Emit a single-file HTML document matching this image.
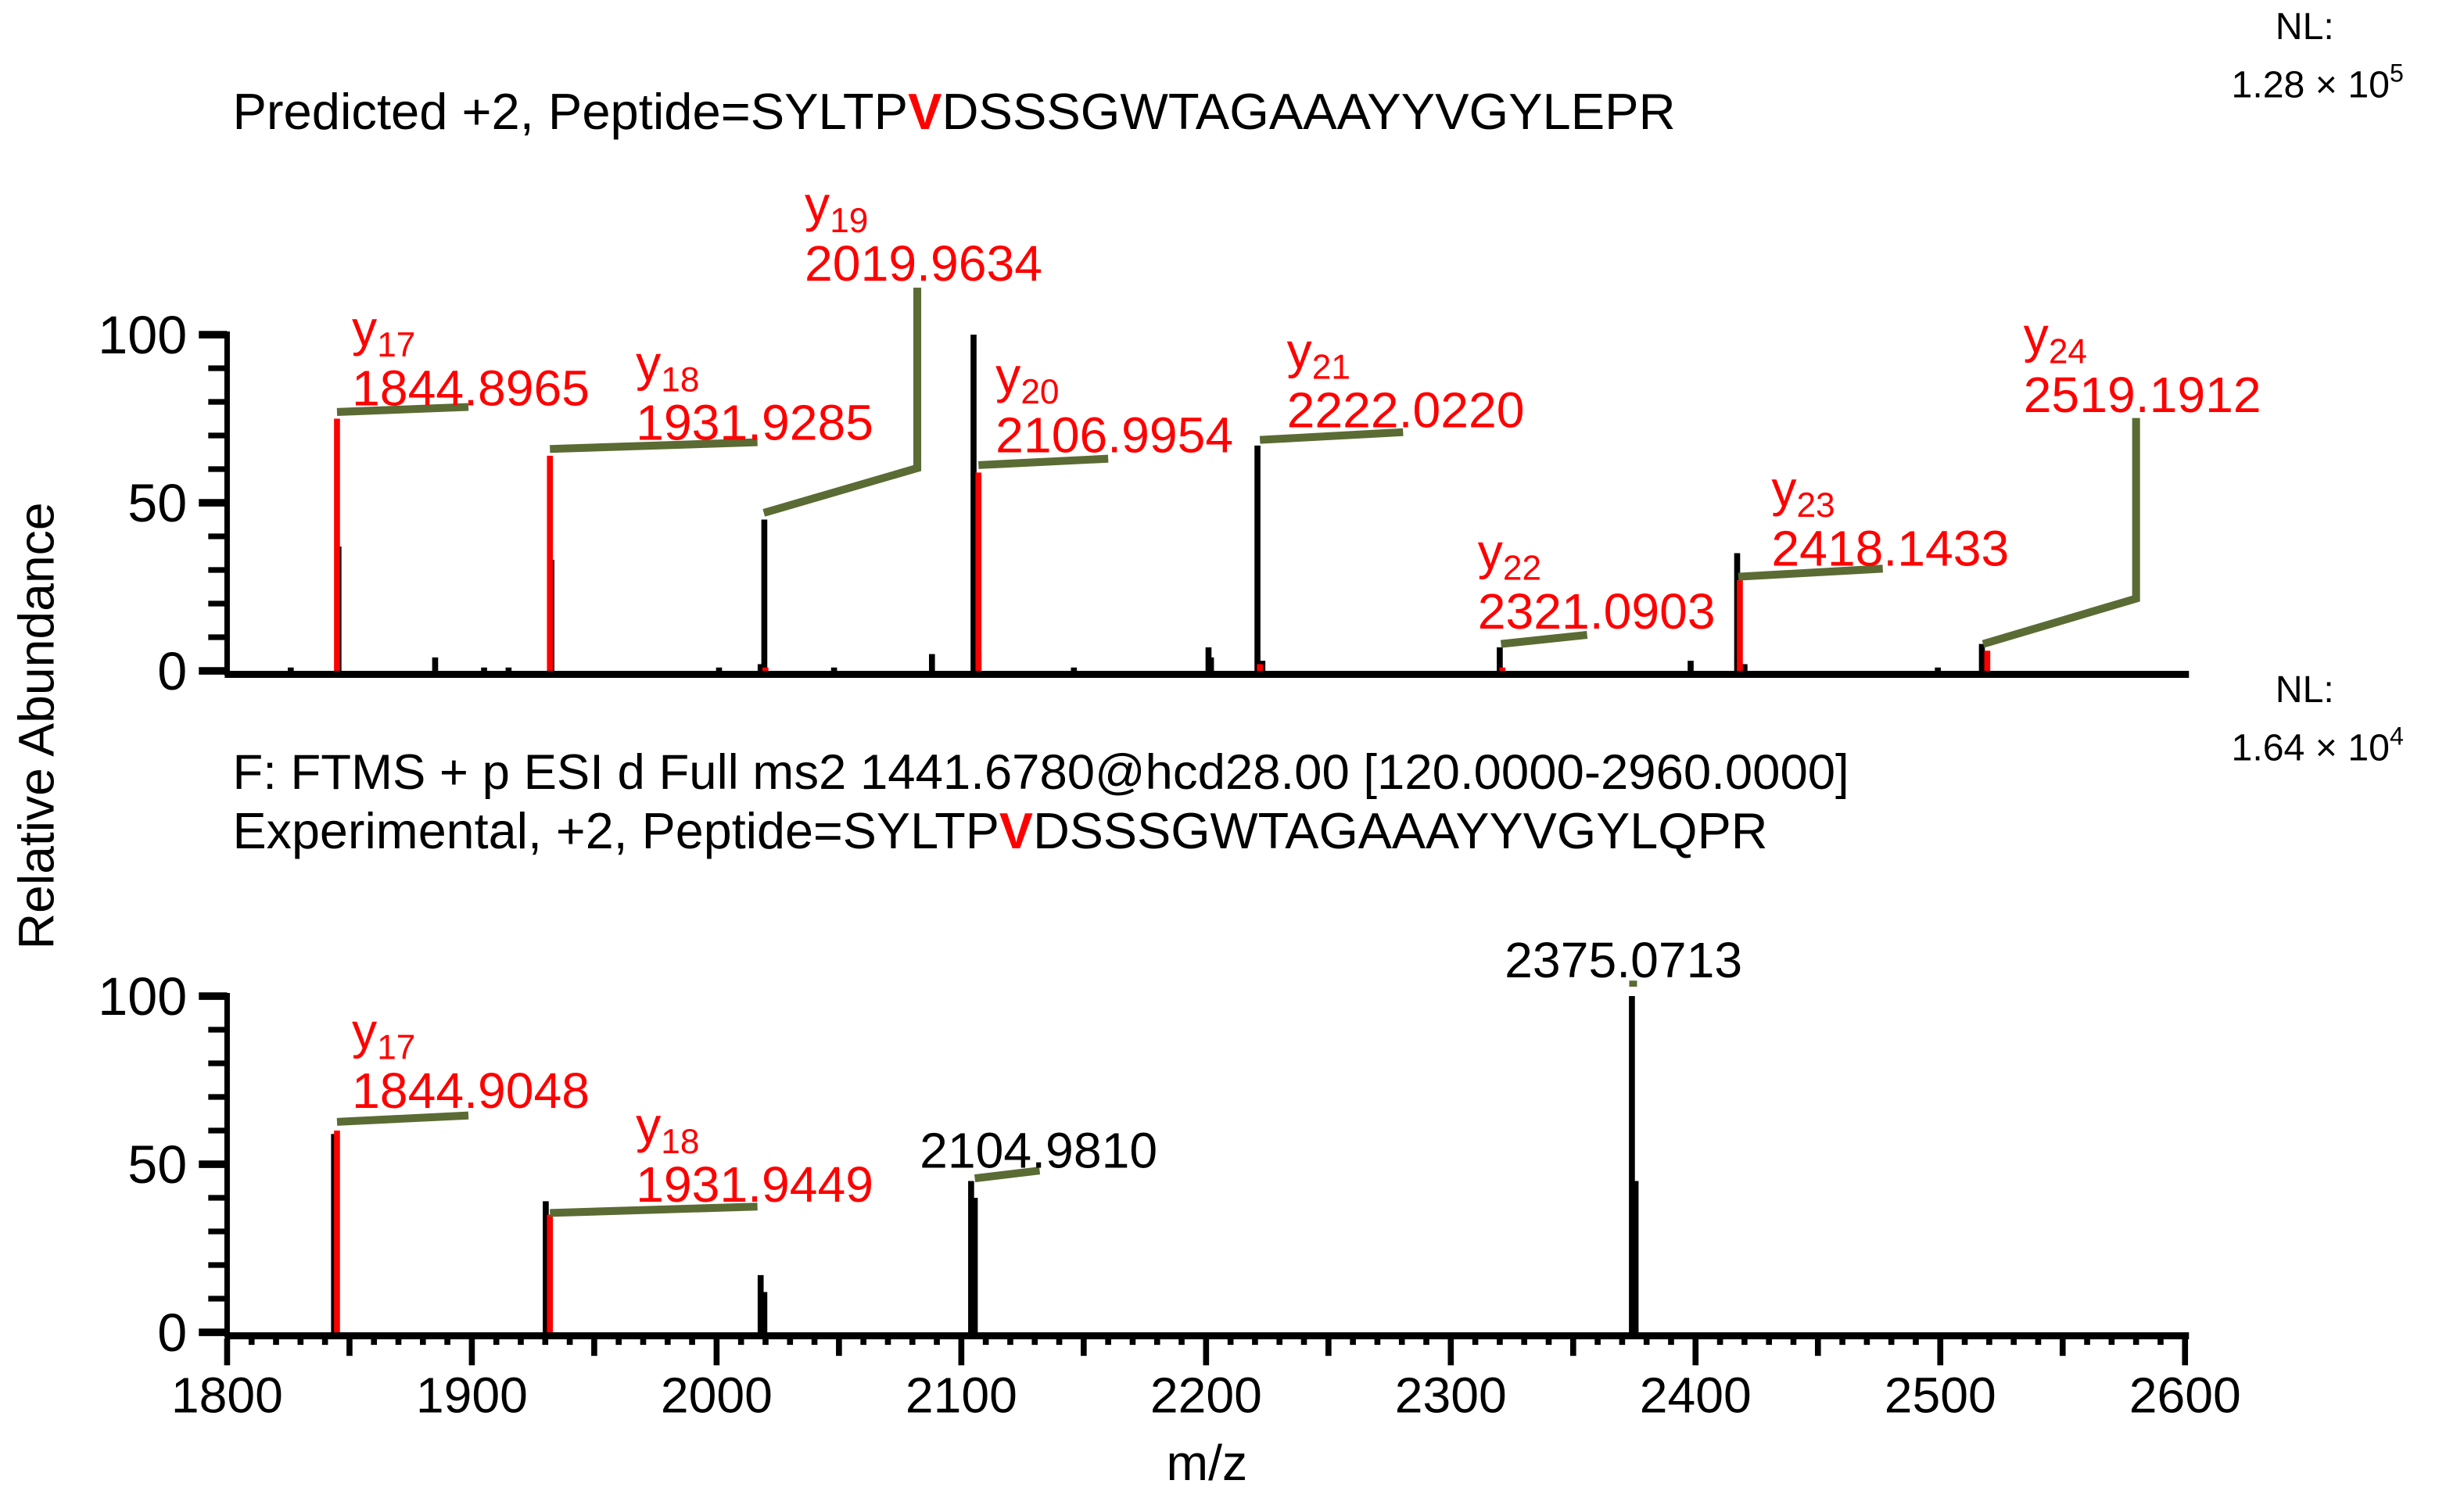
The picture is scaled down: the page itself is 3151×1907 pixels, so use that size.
<!DOCTYPE html>
<html><head><meta charset="utf-8"><style>
html,body{margin:0;padding:0;background:#fff;}
svg{display:block;font-family:"Liberation Sans",Arial,sans-serif;}
</style></head><body>
<svg id="chart" width="3151" height="1907" viewBox="0 0 1568 949" xmlns="http://www.w3.org/2000/svg">
<g id="static">
<text x="1448" y="25" font-size="24">NL:</text>
<text x="1420" y="62" font-size="24">1.28 × 10<tspan dy="-10" font-size="16">5</tspan></text>
<text x="1448" y="447" font-size="24">NL:</text>
<text x="1420" y="484" font-size="24">1.64 × 10<tspan dy="-10" font-size="16">4</tspan></text>
<text x="148" y="82" font-size="32.4">Predicted +2, Peptide=SYLTP<tspan fill="#ff0000" font-weight="bold">V</tspan>DSSSGWTAGAAAYYVGYLEPR</text>
<text x="148" y="502" font-size="31.6">F: FTMS + p ESI d Full ms2 1441.6780@hcd28.00 [120.0000-2960.0000]</text>
<text x="148" y="540" font-size="32.2">Experimental, +2, Peptide=SYLTP<tspan fill="#ff0000" font-weight="bold">V</tspan>DSSSGWTAGAAAYYVGYLQPR</text>
<text transform="translate(34,462) rotate(-90)" text-anchor="middle" font-size="32">Relative Abundance</text>
<text x="768" y="942" text-anchor="middle" font-size="32">m/z</text>
</g>
<g id="dyn"></g>
</svg>
<script>
const xTicks = [1800,1900,2000,2100,2200,2300,2400,2500,2600];
const yTicks = [0,50,100];
// top panel peaks
const topBlackMz = [1826,1845.5,1885,1905,1915,1932.5,2001,2018,2019.5,2048,2088,2105,2107,2146,2201,2202,2221,2223,2320,2398,2417,2420,2499,2517];
const topBlackInt = [1,37,4,1,1,33,1,2,45,1,5,100,5,1,7,4,67,3,7,3,35,2,1,8];
const topRedMz = [1844.9,1931.9,2019.96,2107.0,2222.0,2321.1,2418.1,2519.2];
const topRedInt = [75,64,1,59,2,1,27,6];
// bottom panel peaks
const botBlackMz = [1843.7,1930.2,2018,2019.5,2104,2105.5,2374,2375.5];
const botBlackInt = [59,39,17,12,45,40,100,45];
const botRedMz = [1844.9,1931.9];
const botRedInt = [60,35];
// top annotations
const topLabelIon = ["17","18","19","20","21","22","23","24"];
const topLabelMass = ["1844.8965","1931.9285","2019.9634","2106.9954","2222.0220","2321.0903","2418.1433","2519.1912"];
const topLeaderMz = [1844.9,1931.9,2019.3,2107.0,2222.0,2320.5,2417.5,2517.5];
const topLeaderStart = [77,66,47,61.2,68.7,8,28,8];
const topLeaderEndMz = [1898.6,2016.7,2082,2160,2280.5,2355.7,2476.5,2580];
const topLeaderEnd = [78.5,68,60.3,63.1,71,10.7,30.4,21.5];
const topElbowTop = [0,0,114,0,0,0,0,75.2];
const topTextMz = [1851,1967,2036,2114,2233,2311,2431,2534];
const topTextLevel = [79,68.7,116,65,72.4,12.6,31.3,77];
// bottom annotations
const botLabelIon = ["17","18","",""];
const botLabelMass = ["1844.9048","1931.9449","2104.9810","2375.0713"];
const botLeaderMz = [1844.9,1931.9,2105.5,2374.5];
const botLeaderStart = [62.6,35.5,45.8,102.8];
const botLeaderEndMz = [1898.6,2016.7,2132,2374.5];
const botLeaderEnd = [64.5,37.4,48.1,104.6];
const botTextMz = [1851,1967,2083,2322];
const botTextLevel = [66.8,38.8,49,105.6];

const NS="http://www.w3.org/2000/svg";
const g=document.getElementById('dyn');
const X0=144.5, PX=1.5575;
const xs=mz=>X0+(mz-1800)*PX;
const ysTop=v=>427-v*2.14;
const ysBot=v=>848-v*2.14;
function mk(tag,attrs,parent){const e=document.createElementNS(NS,tag);for(const k in attrs)e.setAttribute(k,attrs[k]);(parent||g).appendChild(e);return e;}

function axes(ys,name,withX){
  const a=mk('line',{x1:X0-1.5,y1:ys(0)+2.2,x2:1393,y2:ys(0)+2.2,stroke:'#000','stroke-width':4.5});
  
  
  const b=mk('line',{x1:X0,y1:ys(0)+3,x2:X0,y2:ys(100)-2,stroke:'#000','stroke-width':3.5});
  
  
  for(let v=0;v<=100;v+=10){
    const major=v%50===0;
    mk('line',{x1:major?X0-18:X0-12,y1:ys(v),x2:X0,y2:ys(v),stroke:'#000','stroke-width':major?4.8:3.6});
  }
  yTicks.forEach(v=>{
    const t=mk('text',{x:119,y:ys(v)+12,'text-anchor':'end','font-size':34});
    
    
    t.textContent=v;
  });
  if(withX){
    for(let m=1800;m<=2600;m+=10){
      const len=m%100===0?17:(m%50===0?11:4);
      mk('line',{x1:xs(m),y1:ys(0)+4,x2:xs(m),y2:ys(0)+4+len,stroke:'#000','stroke-width':3.8});
    }
    xTicks.forEach(m=>{
      const t=mk('text',{x:xs(m),y:899,'text-anchor':'middle','font-size':32});
      
      
      t.textContent=m;
    });
  }
}
function peaks(mzs,ints,ys,color,name){
  mzs.forEach((m,i)=>{
    const l=mk('line',{x1:xs(m),y1:ys(0),x2:xs(m),y2:ys(ints[i]),stroke:color,'stroke-width':3.8});
    
    
  });
}
function labels(ions,masses,lMz,lS,lEMz,lE,elbow,tMz,tLv,ys,name){
  masses.forEach((ms,i)=>{
    let pts=`${xs(lMz[i])},${ys(lS[i])} ${xs(lEMz[i])},${ys(lE[i])}`;
    if(elbow&&elbow[i]) pts+=` ${xs(lEMz[i])},${ys(elbow[i])}`;
    const pl=mk('polyline',{points:pts,fill:'none',stroke:'#5a6b34','stroke-width':5});
    
    
    const col=ions[i]?'#ff0000':'#000';
    const t=mk('text',{x:xs(tMz[i]),y:ys(tLv[i]),'font-size':32,fill:col});
    
    
    t.textContent=ms;
    if(ions[i]){
      const t2=mk('text',{x:xs(tMz[i]),y:ys(tLv[i])-38,'font-size':32,fill:col});
      
      
      t2.textContent='y';
      const s=mk('tspan',{'font-size':22,dy:7},t2);
      s.textContent=ions[i];
    }
  });
}
axes(ysTop,'top',false);
axes(ysBot,'bottom',true);
peaks(topBlackMz,topBlackInt,ysTop,'#000','top-experimental-peak');
peaks(topRedMz,topRedInt,ysTop,'#ff0000','top-predicted-peak');
peaks(botBlackMz,botBlackInt,ysBot,'#000','bottom-peak');
peaks(botRedMz,botRedInt,ysBot,'#ff0000','bottom-matched-peak');
labels(topLabelIon,topLabelMass,topLeaderMz,topLeaderStart,topLeaderEndMz,topLeaderEnd,topElbowTop,topTextMz,topTextLevel,ysTop,'top-annotation');
labels(botLabelIon,botLabelMass,botLeaderMz,botLeaderStart,botLeaderEndMz,botLeaderEnd,null,botTextMz,botTextLevel,ysBot,'bottom-annotation');
</script>
</body></html>
